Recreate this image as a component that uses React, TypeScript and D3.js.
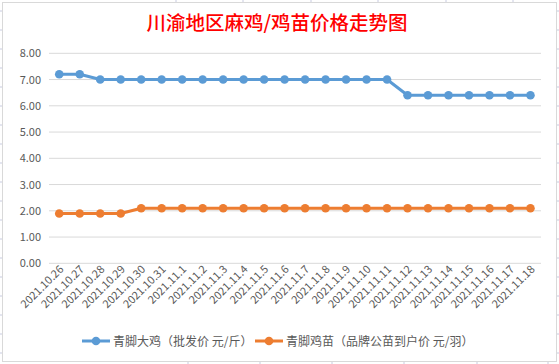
import React from "react";
import * as d3 from "d3";

const categories = [
  "2021.10.26", "2021.10.27", "2021.10.28", "2021.10.29", "2021.10.30", "2021.10.31",
  "2021.11.1", "2021.11.2", "2021.11.3", "2021.11.4", "2021.11.5", "2021.11.6",
  "2021.11.7", "2021.11.8", "2021.11.9", "2021.11.10", "2021.11.11", "2021.11.12",
  "2021.11.13", "2021.11.14", "2021.11.15", "2021.11.16", "2021.11.17", "2021.11.18",
];
const bigChicken = [7.2, 7.2, 7.0, 7.0, 7.0, 7.0, 7.0, 7.0, 7.0, 7.0, 7.0, 7.0, 7.0, 7.0, 7.0, 7.0, 7.0, 6.4, 6.4, 6.4, 6.4, 6.4, 6.4, 6.4];
const chicks = [1.9, 1.9, 1.9, 1.9, 2.1, 2.1, 2.1, 2.1, 2.1, 2.1, 2.1, 2.1, 2.1, 2.1, 2.1, 2.1, 2.1, 2.1, 2.1, 2.1, 2.1, 2.1, 2.1, 2.1];
const yTicks = [0, 1, 2, 3, 4, 5, 6, 7, 8];
const seriesNames = ["青脚大鸡（批发价 元/斤）", "青脚鸡苗（品牌公苗到户价 元/羽）"];
const title = "川渝地区麻鸡/鸡苗价格走势图";

const W = 559, H = 364;
const font = "'Noto Sans CJK SC', 'Liberation Sans', sans-serif";
const textColor = "#595959";
const colors = ["#5B9BD5", "#ED7D31"];

export default function App() {
  const x = d3.scaleBand<string>().domain(categories).range([49, 540.7]);
  const y = d3.scaleLinear().domain([0, 8]).range([263.3, 53.3]);
  const cx = (c: string) => (x(c) as number) + x.bandwidth() / 2;
  const line = d3.line<number>().x((_, i) => cx(categories[i])).y((d) => y(d));
  const series = [bigChicken, chicks];

  const leftTicks = [11, 30, 49, 68, 87, 106, 125, 144, 163, 182, 201, 220, 239, 258, 277, 296, 315, 334, 353];
  const topTicks = [176, 243, 311, 378, 446, 513];
  const botTicks = [188, 260, 332, 404, 477, 548];

  return (
    <div style={{ position: "absolute", left: 0, top: 0 }}>
      <svg width={W} height={H} style={{ display: "block", fontFamily: font }}>
        <rect x={0} y={0} width={W} height={H} fill="#fff" />
        {leftTicks.map((t) => (
          <g key={"l" + t}>
            <line x1={0} x2={2} y1={t} y2={t} stroke="#c8cbe0" />
            <line x1={557} x2={559} y1={t} y2={t} stroke="#c8cbe0" />
          </g>
        ))}
        {topTicks.map((t) => (
          <line key={"t" + t} x1={t} x2={t} y1={0} y2={2} stroke="#c8cbe0" />
        ))}
        {botTicks.map((t) => (
          <line key={"b" + t} x1={t} x2={t} y1={362} y2={364} stroke="#c8cbe0" />
        ))}
        <rect x={2.5} y={2.5} width={554} height={359} fill="#fff" stroke="#d9d9d9" />
        <text x={277} y={30} textAnchor="middle" fill="#FF0000" fontSize={19.5} fontWeight={500}>
          {title}
        </text>
        {yTicks.map((t) => (
          <g key={t}>
            <line x1={49} x2={541} y1={y(t)} y2={y(t)} stroke="#d9d9d9" strokeWidth={1} />
            <text x={41} y={y(t) + 4} textAnchor="end" fontSize={11} fill={textColor}>
              {t.toFixed(2)}
            </text>
          </g>
        ))}
        {categories.map((c) => (
          <text
            key={c}
            transform={`translate(${cx(c) + 5},${270}) rotate(-45)`}
            textAnchor="end"
            fontSize={11}
            fill={textColor}
          >
            {c}
          </text>
        ))}
        {series.map((s, k) => (
          <g key={k}>
            <path d={line(s) as string} fill="none" stroke={colors[k]} strokeWidth={3} strokeLinejoin="round" />
            {s.map((v, i) => (
              <circle key={i} cx={cx(categories[i])} cy={y(v)} r={4.3} fill={colors[k]} />
            ))}
          </g>
        ))}
        {[82, 255].map((lx, k) => (
          <g key={"leg" + k}>
            <line x1={lx} x2={lx + 28} y1={341} y2={341} stroke={colors[k]} strokeWidth={3} />
            <circle cx={lx + 14} cy={341} r={4.3} fill={colors[k]} />
            <text x={lx + 31} y={345.5} fontSize={12} fill={textColor}>
              {seriesNames[k]}
            </text>
          </g>
        ))}
      </svg>
    </div>
  );
}
